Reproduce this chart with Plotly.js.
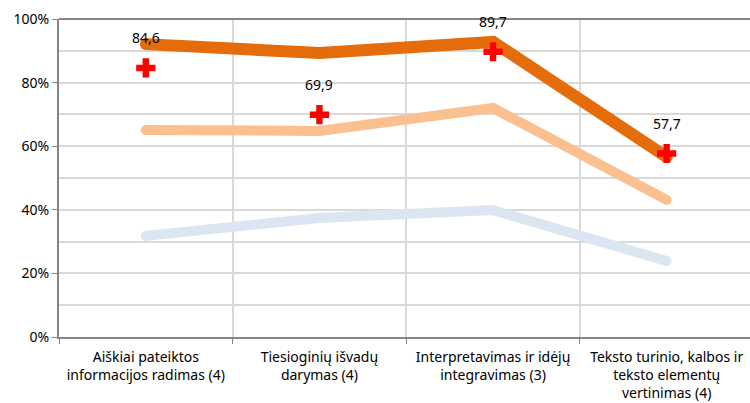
<!DOCTYPE html>
<html><head><meta charset="utf-8">
<script src="https://cdn.plot.ly/plotly-3.0.1.min.js"></script>
<style>html,body{margin:0;padding:0;background:#fff;}#chart{width:750px;height:403px;}</style>
</head><body><div id="chart"></div>
<script>
const categories = [
  "Aiškiai pateiktos<br>informacijos radimas (4)",
  "Tiesioginių išvadų<br>darymas (4)",
  "Interpretavimas ir idėjų<br>integravimas (3)",
  "Teksto turinio, kalbos ir<br>teksto elementų<br>vertinimas (4)"
];
const seriesHigh = [92.1, 89.3, 92.8, 56.6];
const seriesMid = [65.1, 64.8, 72.0, 43.1];
const seriesLow = [31.8, 37.4, 39.9, 23.9];
const seriesMarks = [84.6, 69.9, 89.7, 57.7];
const markLabels = ["84,6", "69,9", "89,7", "57,7"];

const xs = categories.map((_, i) => i);
function lineTrace(y, color, w) {
  return {x: xs, y: y, type: 'scatter', mode: 'lines+markers',
    line: {color: color, width: w},
    marker: {color: color, size: w, line: {width: 0}},
    hoverinfo: 'skip', showlegend: false, cliponaxis: false};
}
const traces = [
  lineTrace(seriesLow, '#DCE6F2', 10),
  lineTrace(seriesMid, '#FAC090', 10),
  lineTrace(seriesHigh, '#E46C0A', 12),
  {x: xs, y: seriesMarks, type: 'scatter', mode: 'markers',
   marker: {symbol: 'cross', color: '#FF0000', size: 16, line: {width: 0}},
   showlegend: false, hoverinfo: 'skip'}
];
const annotations = xs.map((x, i) => ({
  x: x, y: seriesMarks[i], text: markLabels[i], showarrow: false,
  yshift: 30, font: {family: 'Noto Sans, sans-serif', size: 14, color: '#000'}
}));
const layout = {
  width: 750, height: 403,
  margin: {l: 59, r: 0, t: 19, b: 66},
  paper_bgcolor: '#fff', plot_bgcolor: '#fff',
  font: {family: 'Noto Sans, sans-serif', size: 14, color: '#000'},
  xaxis: {
    range: [-0.5, 3.48], tickvals: xs, ticktext: categories,
    showgrid: false, zeroline: false, ticks: '',
    showline: true, linecolor: '#868686', linewidth: 2,
    ticklabelstandoff: 6,
    minor: {tick0: 0.5, dtick: 1, showgrid: true, gridcolor: '#D9D9D9', gridwidth: 2,
            ticks: 'outside', ticklen: 5, tickcolor: '#868686', tickwidth: 1},
    tickfont: {size: 14}, fixedrange: true
  },
  yaxis: {
    range: [0, 100], dtick: 20, ticksuffix: '%',
    showgrid: true, gridcolor: '#D9D9D9', gridwidth: 2, zeroline: false,
    showline: true, linecolor: '#868686', linewidth: 2,
    ticks: 'outside', ticklen: 5, tickcolor: '#868686',
    minor: {dtick: 10, showgrid: true, gridcolor: '#D9D9D9', gridwidth: 2},
    tickfont: {size: 14}, fixedrange: true
  },
  shapes: [{type: 'line', xref: 'paper', yref: 'paper', x0: 0, x1: 1, y0: 1, y1: 1,
            line: {color: '#868686', width: 2}, layer: 'above'}],
  annotations: annotations
};
Plotly.newPlot('chart', traces, layout, {displayModeBar: false, staticPlot: true});
</script></body></html>
